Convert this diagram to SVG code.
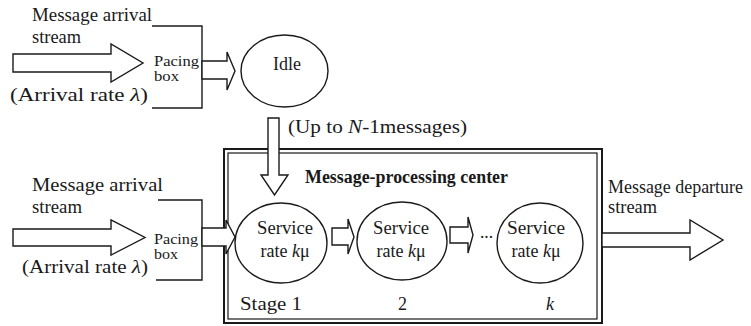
<svg xmlns="http://www.w3.org/2000/svg" width="751" height="326" viewBox="0 0 751 326">
<style>
text{font-family:"Liberation Serif","Times New Roman",serif;fill:#1a1a1a;font-size:18px}
.sm{font-size:14px}
.b{font-weight:bold}
.i{font-style:italic}
.ln{fill:none;stroke:#1a1a1a;stroke-width:1.4}
.ar{fill:#fff;stroke:#1a1a1a;stroke-width:1.4;stroke-linejoin:miter}
.el{fill:#fff;stroke:#1a1a1a;stroke-width:1.4}
</style>
<rect width="751" height="326" fill="#fff"/>

<g id="labels-top">
<text x="32" y="21" textLength="120" lengthAdjust="spacingAndGlyphs">Message arrival</text>
<text x="32" y="43" textLength="49" lengthAdjust="spacingAndGlyphs">stream</text>
<text x="10" y="101" textLength="138" lengthAdjust="spacingAndGlyphs">(Arrival rate <tspan class="i">λ</tspan>)</text>
</g>

<g id="pacing-top">
<path class="ln" d="M152,26H202V108H152"/>
<text class="sm" x="154" y="66" textLength="45" lengthAdjust="spacingAndGlyphs">Pacing</text>
<text class="sm" x="154" y="81" textLength="25" lengthAdjust="spacingAndGlyphs">box</text>
</g>

<g id="idle">
<ellipse class="el" cx="284.5" cy="71" rx="43.5" ry="36"/>
<text x="287" y="70" text-anchor="middle" font-size="19">Idle</text>
</g>

<g id="labels-bottom">
<text x="32" y="191" textLength="131" lengthAdjust="spacingAndGlyphs">Message arrival</text>
<text x="32" y="213" textLength="50" lengthAdjust="spacingAndGlyphs">stream</text>
<text x="22" y="273" textLength="126" lengthAdjust="spacingAndGlyphs">(Arrival rate <tspan class="i">λ</tspan>)</text>
</g>

<g id="pacing-bottom">
<path class="ln" d="M158,200H202V280H156"/>
<text class="sm" x="154" y="244" textLength="44" lengthAdjust="spacingAndGlyphs">Pacing</text>
<text class="sm" x="154" y="259" textLength="24" lengthAdjust="spacingAndGlyphs">box</text>
</g>

<g id="processing-center">
<rect x="224" y="149" width="378" height="174" fill="none" stroke="#1a1a1a" stroke-width="2"/>
<rect x="228" y="153" width="369" height="166" fill="none" stroke="#1a1a1a" stroke-width="1.2"/>
<text class="b" x="305" y="183" textLength="203" lengthAdjust="spacingAndGlyphs">Message-processing center</text>
<text x="240" y="310" textLength="62" lengthAdjust="spacingAndGlyphs">Stage 1</text>
<text x="398" y="310">2</text>
<text class="i" x="546" y="310">k</text>
</g>

<g id="service-1">
<ellipse class="el" cx="281" cy="243" rx="46" ry="40"/>
<text x="285" y="234" text-anchor="middle" textLength="56" lengthAdjust="spacingAndGlyphs">Service</text>
<text x="285" y="257" text-anchor="middle">rate <tspan class="i">k</tspan>μ</text>
</g>

<g id="service-2">
<ellipse class="el" cx="402" cy="241" rx="45" ry="39"/>
<text x="401" y="234" text-anchor="middle" textLength="56" lengthAdjust="spacingAndGlyphs">Service</text>
<text x="401" y="257" text-anchor="middle">rate <tspan class="i">k</tspan>μ</text>
</g>

<g id="service-k">
<ellipse class="el" cx="540" cy="243" rx="43" ry="40"/>
<text x="536" y="234" text-anchor="middle" textLength="58" lengthAdjust="spacingAndGlyphs">Service</text>
<text x="536" y="257" text-anchor="middle">rate <tspan class="i">k</tspan>μ</text>
</g>

<g id="departure-label">
<text x="608" y="193" textLength="135" lengthAdjust="spacingAndGlyphs">Message departure</text>
<text x="608" y="213" textLength="49" lengthAdjust="spacingAndGlyphs">stream</text>
</g>

<g id="connectors">
<polygon class="ar" points="13,54 111,54 111,44 143,63 111,82 111,72 13,72"/>
<polygon class="ar" points="202,61 227,61 227,52 235,71 227,90 227,79 202,79"/>
<polygon class="ar" points="268,118 279,118 279,175 288,175 274.5,195 261,175 268,175"/>
<text x="288" y="133" textLength="179" lengthAdjust="spacingAndGlyphs">(Up to <tspan class="i">N</tspan>-1messages)</text>
<polygon class="ar" points="13,229 111,229 111,220 145,237.5 111,255 111,246 13,246"/>
<polygon class="ar" points="202,228 226,228 226,220 235,237 226,254 226,246 202,246"/>
<polygon class="ar" points="332,228 348,228 348,219 354,237 348,254 348,245 332,245"/>
<polygon class="ar" points="450,227 468,227 468,217 473,235 468,253 468,243 450,243"/>
<text x="480" y="238" textLength="13" lengthAdjust="spacingAndGlyphs">...</text>
<polygon class="ar" points="602,233 690,233 690,220 723,240 690,260 690,247 602,247"/>
</g>
</svg>
